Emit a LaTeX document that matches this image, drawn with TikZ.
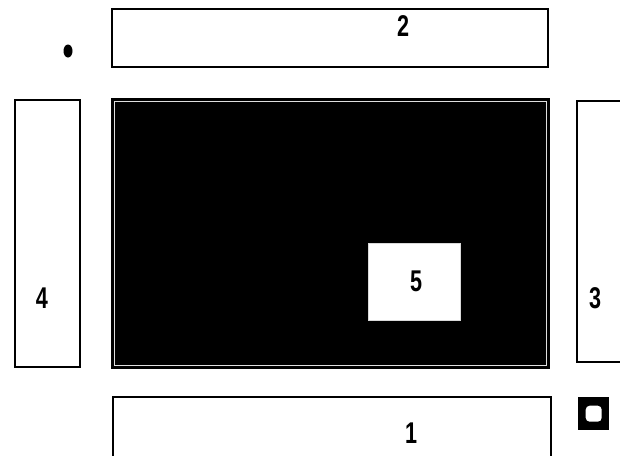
\documentclass[tikz,border=0pt]{standalone}
\usepackage{fontspec}
\setmainfont{Liberation Sans}
\usetikzlibrary{shapes.geometric}
\begin{document}
\begin{tikzpicture}[x=1pt,y=-1pt,
  panel/.style={draw=black,fill=white,line width=2pt,inner sep=0pt,anchor=north west},
  lbl/.style={font=\fontsize{30}{30}\selectfont\bfseries,inner sep=0pt,xscale=0.72},
]
\useasboundingbox (0,0) rectangle (620,455);
\fill[white] (0,0) rectangle (620,455);
% boxes
\node[panel,minimum width=436pt,minimum height=58pt] (b2) at (111,8) {};
\node[panel,minimum width=65pt,minimum height=267pt] (b4) at (14,99) {};
\node[panel,minimum width=60pt,minimum height=261pt] (b3) at (576,100) {};
\node[panel,minimum width=438pt,minimum height=70pt] (b1) at (112,396) {};
% main black panel
\node[draw=black,fill=black,line width=2pt,inner sep=0pt,anchor=north west,
      minimum width=437pt,minimum height=269pt] (main) at (111,98) {};
\draw[white!75!gray,line width=1.6pt] ([shift={(3.5,3.5)}]main.north west) rectangle ([shift={(-3.5,-3.5)}]main.south east);
% box 5
\node[fill=white,draw=white!85!black,line width=0.8pt,inner sep=0pt,anchor=north west,
      minimum width=92pt,minimum height=77pt] (b5) at (368,243) {};
% labels
\node[lbl] (l2) at (403,26) {2};
\node[lbl] (l4) at (42,298) {4};
\node[lbl] (l3) at (595,298) {3};
\node[lbl] (l1) at (411,433) {1};
\node[lbl] (l5) at (416,281) {5};
% dot
\node[fill=black,ellipse,inner sep=0pt,minimum width=9pt,minimum height=13pt,draw=none] (dot) at (68,51) {};
% icon
\node[fill=black,inner sep=0pt,anchor=north west,minimum width=31pt,minimum height=33pt] (icon) at (578,397) {};
\node[fill=white,rounded corners=4pt,inner sep=0pt,minimum width=16pt,minimum height=16pt] (hole) at (icon.center) {};
\end{tikzpicture}
\end{document}
